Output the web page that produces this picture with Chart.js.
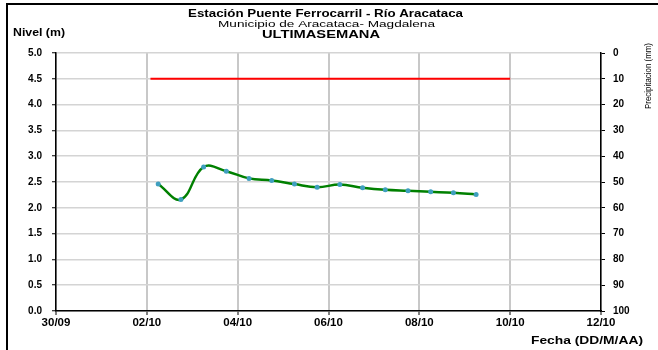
<!DOCTYPE html>
<html>
<head>
<meta charset="utf-8">
<script src="https://cdn.jsdelivr.net/npm/chart.js@4.4.0/dist/chart.umd.min.js"></script>
<style>
  html, body { margin: 0; padding: 0; background: #fff; }
  #wrap { position: relative; width: 658px; height: 350px; }
  #marco { position: absolute; left: 6px; top: 3px; right: 0; bottom: 0;
           border-top: 2px solid #000; border-left: 2px solid #000; pointer-events: none; }
</style>
</head>
<body>
<div id="wrap">
  <canvas id="myChart" width="658" height="350"></canvas>
  <div id="marco"></div>
</div>
<script>
// dias desde 30/09 00:00 (lecturas 06:00 y 18:00)
const dias = [2.25, 2.75, 3.25, 3.75, 4.25, 4.75, 5.25, 5.75, 6.25, 6.75, 7.25, 7.75, 8.25, 8.75, 9.25];
const nivel = [2.46, 2.16, 2.79, 2.71, 2.57, 2.53, 2.46, 2.40, 2.45, 2.39, 2.35, 2.33, 2.31, 2.29, 2.26];

// linea roja (umbral)
const umbralDias = [2.08, 10];
const umbralNivel = [4.5, 4.5];

const xTickLabels = ['30/09', '02/10', '04/10', '06/10', '08/10', '10/10', '12/10'];

const FONT = "'Liberation Sans', Arial, sans-serif";

// texto estirado a un ancho dado (el original viene ensanchado)
function fitText(c, txt, x, y, w, align, sy = 1) {
  const s = w / c.measureText(txt).width;
  c.save();
  c.translate(x, y);
  c.scale(s, sy);
  c.textAlign = align;
  c.fillText(txt, 0, 0);
  c.restore();
}

const textos = {
  id: 'textos',
  afterDraw(chart) {
    const ctx = chart.ctx;
    const a = chart.chartArea;
    ctx.save();
    ctx.fillStyle = '#000';
    ctx.textBaseline = 'middle';
    ctx.font = 'bold 10px ' + FONT;
    fitText(ctx, 'Estación Puente Ferrocarril - Río Aracataca', 325.5, 14, 275, 'center');
    ctx.font = '9.5px ' + FONT;
    fitText(ctx, 'Municipio de Aracataca- Magdalena', 326.5, 24, 217, 'center');
    ctx.font = 'bold 10px ' + FONT;
    fitText(ctx, 'ULTIMASEMANA', 321, 35, 118, 'center');

    ctx.font = 'bold 10px ' + FONT;
    fitText(ctx, 'Nivel (m)', 13, 33, 52, 'left');
    fitText(ctx, 'Fecha (DD/M/AA)', 643, a.bottom + 30, 112, 'right');

    ctx.translate(648, 76);
    ctx.rotate(-Math.PI / 2);
    ctx.font = '8px ' + FONT;
    fitText(ctx, 'Precipitacion (mm)', 0, 0, 66, 'center', 1.2);
    ctx.restore();
  }
};

const ctx = document.getElementById('myChart');
const myChart = new Chart(ctx, {
  type: 'line',
  data: {
    datasets: [
      {
        label: 'Umbral',
        data: umbralDias.map((d, i) => ({ x: d, y: umbralNivel[i] })),
        borderColor: '#ff0000',
        borderWidth: 2,
        pointRadius: 0,
        tension: 0
      },
      {
        label: 'Nivel',
        data: dias.map((d, i) => ({ x: d, y: nivel[i] })),
        borderColor: '#008000',
        borderWidth: 2.5,
        tension: 0.4,
        pointRadius: 2.5,
        pointBorderWidth: 0,
        pointBackgroundColor: '#3f9fbf',
        pointBorderColor: '#3f9fbf'
      }
    ]
  },
  options: {
    responsive: false,
    animation: false,
    devicePixelRatio: 1,
    layout: { padding: { top: 53, left: 0, right: 0, bottom: 0 } },
    plugins: {
      legend: { display: false },
      tooltip: { enabled: false }
    },
    scales: {
      x: {
        type: 'linear', min: 0, max: 12,
        ticks: {
          stepSize: 2, autoSkip: false, maxRotation: 0, color: '#000', padding: 1,
          font: { family: FONT, size: 11.5, weight: 'bold' },
          callback: v => xTickLabels[v / 2]
        },
        grid: { color: '#c8c8c8', lineWidth: 2, tickColor: '#000', tickLength: 4, tickWidth: 1 },
        border: { color: '#000', width: 1.5 },
        afterFit: s => { s.height = 39; }
      },
      y: {
        position: 'left', min: 0, max: 5,
        ticks: {
          stepSize: 0.5, color: '#000', padding: 10,
          font: { family: FONT, size: 10, weight: 'bold' },
          callback: v => v.toFixed(1)
        },
        grid: { color: '#d4d4d4', lineWidth: 1.5, tickColor: '#000', tickLength: 4, tickWidth: 1 },
        border: { color: '#000', width: 1.5 },
        afterFit: s => { s.width = 56; }
      },
      y2: {
        position: 'right', min: 0, max: 100, reverse: true,
        ticks: {
          stepSize: 10, color: '#000', padding: 8,
          font: { family: FONT, size: 10, weight: 'bold' }
        },
        grid: { drawOnChartArea: false, tickColor: '#000', tickLength: 4, tickWidth: 1 },
        border: { color: '#000', width: 1.5 },
        afterFit: s => { s.width = 57; }
      }
    }
  },
  plugins: [textos]
});
</script>
</body>
</html>
